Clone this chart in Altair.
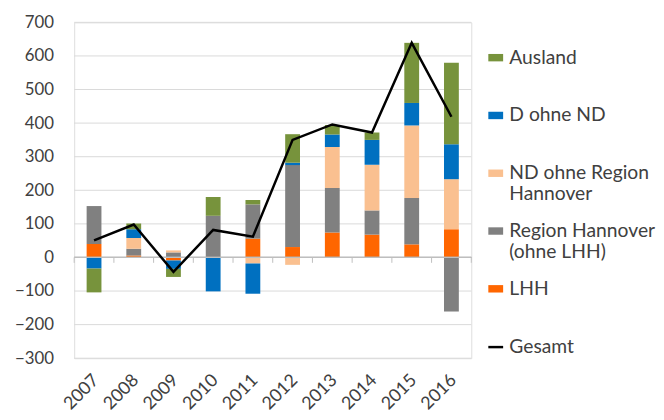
import altair as alt
import pandas as pd

years = ["2007", "2008", "2009", "2010", "2011", "2012", "2013", "2014", "2015", "2016"]
lhh = [40, 6, -9, 0, 56, 31, 74, 68, 39, 84]
region = [113, 20, 15, 124, 102, 244, 133, 72, 138, -161]
nd = [0, 32, 6, 0, -18, -22, 122, 136, 216, 149]
d_ohne_nd = [-33, 26, -25, -101, -90, 7, 37, 74, 67, 104]
ausland = [-71, 17, -24, 56, 13, 85, 28, 22, 179, 243]
gesamt = [51, 98, -43, 82, 62, 350, 396, 372, 639, 419]
y_ticks = [-300, -200, -100, 0, 100, 200, 300, 400, 500, 600, 700]

series_names = ["LHH", "Region Hannover (ohne LHH)", "ND ohne Region Hannover", "D ohne ND", "Ausland"]
series_values = [lhh, region, nd, d_ohne_nd, ausland]
series_colors = ["#FF6600", "#808080", "#FAC090", "#0070C0", "#77933C"]

rows = []
for idx, (name, vals) in enumerate(zip(series_names, series_values)):
    for y, v in zip(years, vals):
        rows.append({"year": y, "series": name, "value": v, "idx": idx})
bars_df = pd.DataFrame(rows)
line_df = pd.DataFrame({"year": years, "value": gesamt, "s": ["Gesamt"] * len(years)})
tick_df = pd.DataFrame({"year": years, "zero": [0] * len(years), "tick_end": [-16] * len(years)})
grid_df = pd.DataFrame({"v": [t for t in y_ticks if t != 0]})

FONT = "Lato"
TXT = "#404040"
LEG = 19.5

y_scale = alt.Scale(domain=[-300, 700], nice=False, zero=False)


def x_enc(**kw):
    return alt.X("year:N", sort=years,
                 scale=alt.Scale(paddingInner=0, paddingOuter=0),
                 axis=alt.Axis(title=None, labelAngle=-45, labelFontSize=18, labelFont=FONT,
                               labelColor=TXT, domain=False, ticks=False, labelPadding=13,
                               labelOffset=-4, grid=False),
                 **kw)


def y_axis():
    return alt.Axis(title=None, values=y_ticks, grid=False,
                    domain=False, ticks=False, labelFontSize=17, labelFont=FONT,
                    labelColor=TXT, labelPadding=21, labelOverlap=False)


legend_order = list(reversed(series_names))
legend_colors = list(reversed(series_colors))

label_expr = ("datum.label == 'ND ohne Region Hannover' ? ['ND ohne Region', 'Hannover'] : "
              "datum.label == 'Region Hannover (ohne LHH)' ? ['Region Hannover', '(ohne LHH)'] : "
              "[datum.label, ' ']")

grid = alt.Chart(grid_df).mark_rule(color="#D9D9D9", strokeWidth=1).encode(
    y=alt.Y("v:Q", scale=y_scale, axis=y_axis()),
)

bars = alt.Chart(bars_df).mark_bar(size=15).encode(
    x=x_enc(),
    y=alt.Y("value:Q", stack="zero", scale=y_scale, axis=y_axis()),
    color=alt.Color("series:N", scale=alt.Scale(domain=legend_order, range=legend_colors),
                    legend=alt.Legend(title=None, orient="none", legendX=417, legendY=26,
                                      labelFont=FONT, labelFontSize=LEG, labelColor=TXT,
                                      labelLimit=300, gridAlign="all", rowPadding=16.5,
                                      symbolType="M-1,-0.5H1V0.5H-1Z", symbolSize=225,
                                      symbolStrokeWidth=0, labelOffset=4,
                                      labelExpr=label_expr)),
    order=alt.Order("idx:Q", sort="ascending"),
)

zero = alt.Chart(tick_df).mark_rule(color="#BFBFBF", strokeWidth=1).encode(
    y=alt.Y("zero:Q", scale=y_scale, axis=y_axis()),
)

ticks = alt.Chart(tick_df).mark_rule(color="#BFBFBF", strokeWidth=1).encode(
    x=x_enc(bandPosition=0),
    y=alt.Y("zero:Q", scale=y_scale, axis=y_axis()),
    y2="tick_end:Q",
)
last_tick = alt.Chart(tick_df.tail(1)).mark_rule(color="#BFBFBF", strokeWidth=1).encode(
    x=x_enc(bandPosition=1),
    y=alt.Y("zero:Q", scale=y_scale, axis=y_axis()),
    y2="tick_end:Q",
)

line = alt.Chart(line_df).mark_line(strokeWidth=2.5, color="black").encode(
    x=x_enc(),
    y=alt.Y("value:Q", scale=y_scale, axis=y_axis()),
    stroke=alt.Stroke("s:N", scale=alt.Scale(domain=["Gesamt"], range=["black"]),
                      legend=alt.Legend(title=None, orient="none", legendX=417, legendY=319,
                                        labelFont=FONT, labelFontSize=LEG, labelColor=TXT,
                                        symbolType="stroke", symbolSize=225, symbolStrokeWidth=2.5,
                                        labelOffset=4)),
)

chart = alt.layer(grid, bars, zero, ticks, last_tick, line).properties(
    width=402, height=340,
    autosize=alt.AutoSizeParams(type="none"),
    padding={"left": 67, "top": 12, "right": 187, "bottom": 58},
).configure_view(stroke=None).configure(background="white")

chart.save("out.html", embed_options={"renderer": "svg", "actions": False})
